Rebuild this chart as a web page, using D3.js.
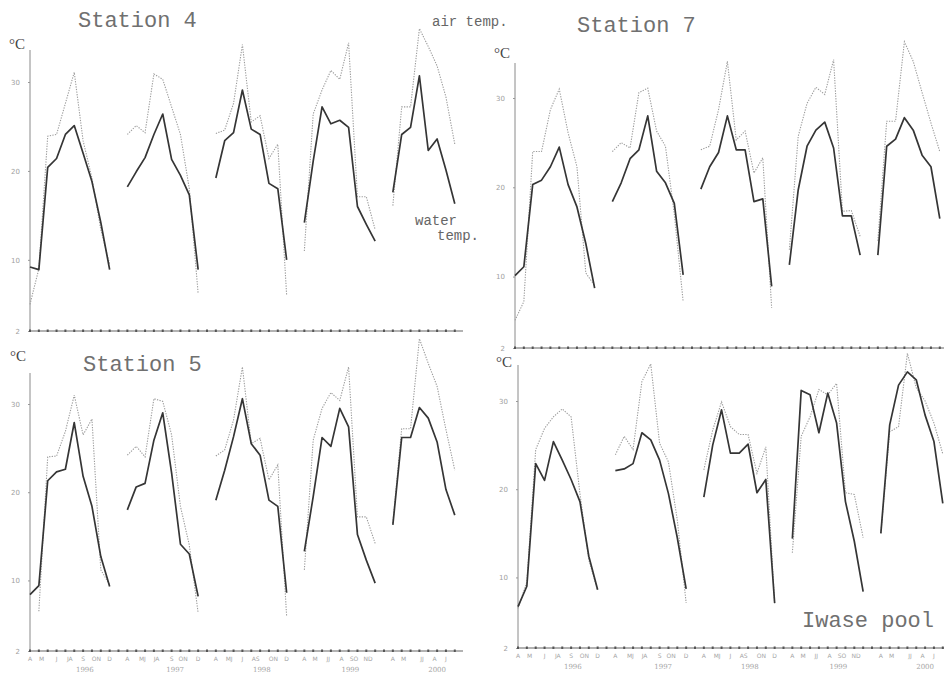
<html>
    <head>
        <title>Water and air temperature, 1996-2000</title>
        <script src="https://cdnjs.cloudflare.com/ajax/libs/d3/7.8.5/d3.min.js"></script>
        <style>
            body { margin: 0; background: #fff; }
        </style>
    </head>
    <body>
        <div id="container"></div>

        <script>
            // Sample index along the time axis (one per survey, gap between years)
            var sampleIdx = [0,1,2,3,4,5,6,7,8,9,10,11,12,13,14,15,16,17,18,19,20,21,22,23,24,
                             25,26,27,28,29,30,31,32,33,34,35,36,37,38,39,40,41,42,43,44,45,46,47,48];

            // Station 4
            var st4Water = [9.2, 8.9, 20.4, 21.4, 24.1, 25.1, 22.0, 18.8, 14.2, 8.9, null,
                            18.2, 19.9, 21.5, 24.1, 26.4, 21.3, 19.5, 17.3, 8.9, null,
                            19.2, 23.4, 24.3, 29.1, 24.7, 24.1, 18.6, 18.0, 10.0, null,
                            14.2, 21.1, 27.2, 25.3, 25.7, 24.9, 16.0, 14.0, 12.1, null,
                            17.6, 24.1, 24.9, 30.7, 22.3, 23.6, 20.1, 16.3];
            var st4Air = [5.0, 9.0, 23.9, 24.1, 27.6, 31.1, 23.4, 19.2, 13.4, 9.5, null,
                          24.1, 25.1, 24.3, 30.9, 30.3, 27.2, 24.1, 18.0, 6.2, null,
                          24.2, 24.6, 27.6, 34.2, 25.5, 26.2, 21.4, 23.0, 6.0, null,
                          11.0, 26.4, 29.1, 31.3, 30.3, 34.4, 17.1, 17.1, 13.4, null,
                          16.1, 27.2, 27.2, 36.0, 34.0, 31.8, 28.3, 23.0];

            // Station 7
            var st7Water = [10.1, 11.1, 20.3, 20.8, 22.3, 24.5, 20.3, 17.8, 13.7, 8.7, null,
                            18.4, 20.5, 23.2, 24.2, 28.0, 21.8, 20.5, 18.2, 10.2, null,
                            19.8, 22.3, 23.9, 28.0, 24.2, 24.2, 18.4, 18.7, 8.9, null,
                            11.3, 19.7, 24.6, 26.4, 27.3, 24.4, 16.8, 16.8, 12.4, null,
                            12.4, 24.6, 25.4, 27.8, 26.4, 23.6, 22.3, 16.5];
            var st7Air = [5.1, 7.2, 24.0, 24.0, 28.7, 31.0, 26.1, 22.3, 10.4, 9.0, null,
                          24.0, 25.0, 24.4, 30.6, 31.1, 26.3, 24.6, 17.0, 7.2, null,
                          24.2, 24.6, 28.7, 34.1, 25.3, 26.3, 21.6, 23.3, 6.5, null,
                          13.0, 25.7, 29.4, 31.2, 30.4, 34.3, 17.3, 17.4, 14.5, null,
                          14.0, 27.4, 27.4, 36.3, 34.1, 30.6, 27.2, 24.0];

            // Station 5
            var st5Water = [8.4, 9.4, 21.3, 22.3, 22.6, 27.9, 21.8, 18.4, 12.7, 9.3, null,
                            18.0, 20.6, 21.0, 25.9, 29.0, 22.2, 14.1, 13.0, 8.2, null,
                            19.1, 22.5, 26.3, 30.6, 25.5, 24.2, 19.1, 18.4, 8.6, null,
                            13.3, 19.5, 26.2, 25.2, 29.5, 27.4, 15.2, 12.3, 9.7, null,
                            16.3, 26.2, 26.2, 29.6, 28.4, 25.7, 20.3, 17.4];
            var st5Air = [null, 6.5, 24.0, 24.1, 26.9, 31.0, 26.5, 28.3, 11.2, 9.5, null,
                          24.2, 25.2, 24.0, 30.6, 30.3, 26.5, 18.4, 14.0, 6.3, null,
                          24.1, 24.8, 28.2, 34.2, 25.5, 26.1, 21.4, 23.1, 5.9, null,
                          11.2, 25.9, 29.5, 31.3, 30.4, 34.2, 17.2, 17.2, 14.2, null,
                          16.5, 27.2, 27.2, 37.4, 34.6, 32.0, 27.1, 22.5];

            // Iwase pool
            var iwWater = [6.7, 9.0, 22.9, 21.0, 25.4, 23.3, 21.1, 18.6, 12.4, 8.6, null,
                           22.1, 22.3, 22.9, 26.4, 25.6, 23.3, 19.5, 14.5, 8.7, null,
                           19.1, 25.0, 29.0, 24.1, 24.1, 25.1, 19.6, 21.1, 7.1, null,
                           14.4, 31.2, 30.7, 26.4, 30.9, 27.5, 18.6, 14.1, 8.4, null,
                           15.0, 27.3, 31.8, 33.3, 32.4, 28.4, 25.4, 18.4];
            var iwAir = [6.5, 9.5, 24.5, 26.9, 28.2, 29.1, 28.2, 19.5, 12.0, 8.5, null,
                         23.9, 26.0, 24.5, 32.2, 34.2, 25.2, 23.1, 16.5, 7.1, null,
                         22.2, 26.7, 29.9, 27.1, 26.2, 26.2, 21.8, 24.8, 7.0, null,
                         12.8, 26.0, 28.2, 31.3, 30.7, 32.0, 19.6, 19.4, 14.5, null,
                         15.0, 26.5, 27.1, 35.4, 31.5, 30.0, 27.5, 24.0];

            // Axis labels
            var yTicks = [2, 10, 20, 30];
            var monthTicks = [0, 1.3, 3, 4.5, 6, 7.5, 9, 11, 12.7, 14.3, 16, 17.3, 19,
                              21, 22.5, 24, 25.5, 27.5, 29, 31, 32.2, 33.7, 35.2, 36.6, 38.2,
                              41, 42.2, 44.3, 45.7, 47];
            var monthNames = ["A", "M", "J", "JA", "S", "ON", "D", "A", "MJ", "JA", "S", "ON", "D",
                              "A", "MJ", "J", "AS", "ON", "D", "A", "M", "JJ", "A", "SO", "ND",
                              "A", "M", "JJ", "A", "J"];
            var yearTicks = [6.2, 16.4, 26.2, 36.2, 46];
            var yearNames = ["1996", "1997", "1998", "1999", "2000"];

            var w = 944, h = 674;
            var step = 8.85;  // px per sample

            var panels = [
                {name: "Station 4", water: st4Water, air: st4Air, x0: 30, xEnd: 463, top: 50, base: 331, y30: 82,
                 tx: 78, ty: 27, cx: 9, cy: 49, months: false},
                {name: "Station 7", water: st7Water, air: st7Air, x0: 515, xEnd: 944, top: 63, base: 348, y30: 98,
                 tx: 577, ty: 32, cx: 494, cy: 58, months: false},
                {name: "Station 5", water: st5Water, air: st5Air, x0: 30, xEnd: 463, top: 373, base: 651, y30: 404,
                 tx: 83, ty: 371, cx: 10, cy: 361, months: true},
                {name: "Iwase pool", water: iwWater, air: iwAir, x0: 518, xEnd: 944, top: 365, base: 648, y30: 401,
                 tx: 802, ty: 627, cx: 496, cy: 367, months: true}
            ];

            var svg = d3.select("#container").append("svg")
                .attr("width", w)
                .attr("height", h)
                .style("display", "block");

            svg.append("rect").attr("width", w).attr("height", h).attr("fill", "#fff");

            panels.forEach(function(p) {
                var x = d3.scaleLinear().domain([0, 48]).range([p.x0, p.x0 + 48 * step]);
                var y = d3.scaleLinear().domain([2, 30]).range([p.base, p.y30]);
                var g = svg.append("g");

                // y axis line + tick labels
                g.append("line")
                    .attr("x1", p.x0).attr("x2", p.x0)
                    .attr("y1", p.top).attr("y2", p.base)
                    .attr("stroke", "#8a8a8a").attr("stroke-width", 1);

                var yAxis = d3.axisLeft(y).tickValues(yTicks).tickSize(2).tickPadding(8);
                var ya = g.append("g").attr("transform", "translate(" + p.x0 + ",0)").call(yAxis);
                ya.select(".domain").remove();
                ya.selectAll("line").attr("stroke", "#999");
                ya.selectAll("text")
                    .attr("fill", "#a0a0a0")
                    .style("font", "7px 'DejaVu Sans'");

                // baseline with a dot at each sample
                g.append("line")
                    .attr("x1", p.x0).attr("x2", p.xEnd)
                    .attr("y1", p.base).attr("y2", p.base)
                    .attr("stroke", "#666").attr("stroke-width", 1.2);
                g.selectAll("rect.tick")
                    .data(sampleIdx)
                    .enter()
                    .append("rect")
                    .attr("x", function(d) { return x(d) - 1; })
                    .attr("y", p.base - 1.5)
                    .attr("width", 2).attr("height", 2.5)
                    .attr("fill", "#555");

                if (p.months) {
                    g.selectAll("text.month")
                        .data(monthTicks)
                        .enter()
                        .append("text")
                        .attr("x", function(d) { return x(d); })
                        .attr("y", p.base + 10)
                        .attr("text-anchor", "middle")
                        .attr("fill", "#a5a5a5")
                        .style("font", "6px 'DejaVu Sans'")
                        .text(function(d, i) { return monthNames[i]; });
                    g.selectAll("text.year")
                        .data(yearTicks)
                        .enter()
                        .append("text")
                        .attr("x", function(d) { return x(d); })
                        .attr("y", p.base + 21)
                        .attr("text-anchor", "middle")
                        .attr("fill", "#a5a5a5")
                        .style("font", "7px 'DejaVu Serif'")
                        .text(function(d, i) { return yearNames[i]; });
                }

                var line = d3.line()
                    .defined(function(d) { return d != null; })
                    .x(function(d, i) { return x(sampleIdx[i]); })
                    .y(function(d) { return y(d); });

                // air temp: light dotted
                g.append("path")
                    .attr("d", line(p.air))
                    .attr("fill", "none")
                    .attr("stroke", "#9c9c9c")
                    .attr("stroke-width", 1.1)
                    .attr("stroke-dasharray", "1.3,1.3");

                // water temp: dark solid
                g.append("path")
                    .attr("d", line(p.water))
                    .attr("fill", "none")
                    .attr("stroke", "#353535")
                    .attr("stroke-width", 1.7)
                    .attr("stroke-linejoin", "round");

                // titles
                g.append("text")
                    .attr("x", p.tx).attr("y", p.ty)
                    .attr("fill", "#707070")
                    .style("font", "22px 'Liberation Mono'")
                    .text(p.name);
                g.append("text")
                    .attr("x", p.cx).attr("y", p.cy)
                    .attr("fill", "#444")
                    .style("font", "15px 'Liberation Serif'")
                    .text("°C");
            });

            // series labels
            svg.append("text").attr("x", 432).attr("y", 26)
                .attr("fill", "#666").style("font", "14px 'Liberation Mono'")
                .text("air temp.");
            svg.append("text").attr("x", 415).attr("y", 225)
                .attr("fill", "#666").style("font", "14px 'Liberation Mono'")
                .text("water");
            svg.append("text").attr("x", 437).attr("y", 240)
                .attr("fill", "#666").style("font", "14px 'Liberation Mono'")
                .text("temp.");
        </script>
    </body>
</html>
